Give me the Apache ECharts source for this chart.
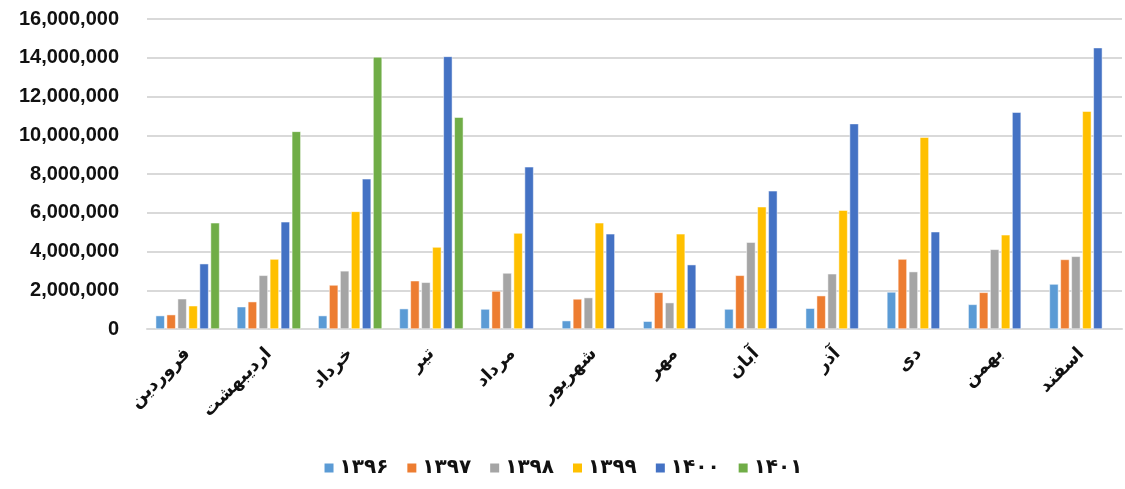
<!DOCTYPE html>
<html>
<head>
<meta charset="utf-8">
<script src="https://cdn.jsdelivr.net/npm/echarts@6/dist/echarts.min.js"></script>
<style>
  html, body { margin: 0; padding: 0; background: #fff; }
  #main { width: 1125px; height: 489px; }
</style>
</head>
<body>
<div id="main"></div>
<script>
const MONTHS = ['فروردین', 'اردیبهشت', 'خرداد', 'تیر', 'مرداد', 'شهریور', 'مهر', 'آبان', 'آذر', 'دی', 'بهمن', 'اسفند']

const YEARS = ['۱۳۹۶', '۱۳۹۷', '۱۳۹۸', '۱۳۹۹', '۱۴۰۰', '۱۴۰۱']
const COLORS = ['#5B9BD5', '#ED7D31', '#A5A5A5', '#FFC000', '#4472C4', '#70AD47']

const Y1396 = [690000, 1150000, 690000, 1050000, 1030000, 430000, 400000, 1030000, 1070000, 1910000, 1270000, 2320000]
const Y1397 = [740000, 1410000, 2270000, 2490000, 1960000, 1550000, 1890000, 2770000, 1720000, 3610000, 1890000, 3590000]
const Y1398 = [1560000, 2770000, 3000000, 2410000, 2890000, 1620000, 1360000, 4480000, 2850000, 2960000, 4110000, 3750000]
const Y1399 = [1200000, 3610000, 6070000, 4230000, 4950000, 5480000, 4910000, 6310000, 6130000, 9900000, 4860000, 11240000]
const Y1400 = [3370000, 5530000, 7750000, 14070000, 8370000, 4910000, 3320000, 7130000, 10600000, 5020000, 11190000, 14520000]
const Y1401 = [5480000, 10200000, 14040000, 10930000, null, null, null, null, null, null, null, null]

const SERIES_VALUES = [Y1396, Y1397, Y1398, Y1399, Y1400, Y1401]

function buildSeries() {
  return YEARS.map((name, i) => ({
    name,
    type: 'bar',
    data: SERIES_VALUES[i],
    barWidth: 9,
    barGap: '22%',
    itemStyle: {
      color: COLORS[i],
      borderColor: '#ffffff',
      borderWidth: 0.5,
    },
  }))
}

function main() {
  const chart = echarts.init(document.getElementById('main'), null, { renderer: 'canvas' })
  chart.setOption({
    animation: false,
    color: COLORS,
    grid: {
      left: 147,
      right: 3,
      top: 19,
      bottom: 160,
    },
    legend: {
      bottom: 6,
      left: 'center',
      itemWidth: 11,
      itemHeight: 11,
      itemGap: 17,
      icon: 'rect',
      textStyle: {
        fontFamily: 'DejaVu Sans',
        fontWeight: 'bold',
        fontSize: 20,
        color: '#111',
      },
      data: YEARS,
    },
    xAxis: {
      type: 'category',
      data: MONTHS,
      axisLine: { lineStyle: { color: '#d9d9d9', width: 2 } },
      axisTick: { show: false },
      axisLabel: {
        rotate: 45,
        margin: 22,
        interval: 0,
        fontFamily: 'DejaVu Sans',
        fontWeight: 'bold',
        fontSize: 18,
        color: '#111',
      },
    },
    yAxis: {
      type: 'value',
      min: 0,
      max: 16000000,
      interval: 2000000,
      axisLine: { show: false },
      axisTick: { show: false },
      splitLine: { lineStyle: { color: '#d9d9d9', width: 2 } },
      axisLabel: {
        margin: 28,
        fontFamily: 'Liberation Sans',
        fontWeight: 'bold',
        fontSize: 20,
        color: '#111',
        formatter: (v) => v.toLocaleString('en-US'),
      },
    },
    series: buildSeries(),
  })
}

window.onload = main
</script>
</body>
</html>
